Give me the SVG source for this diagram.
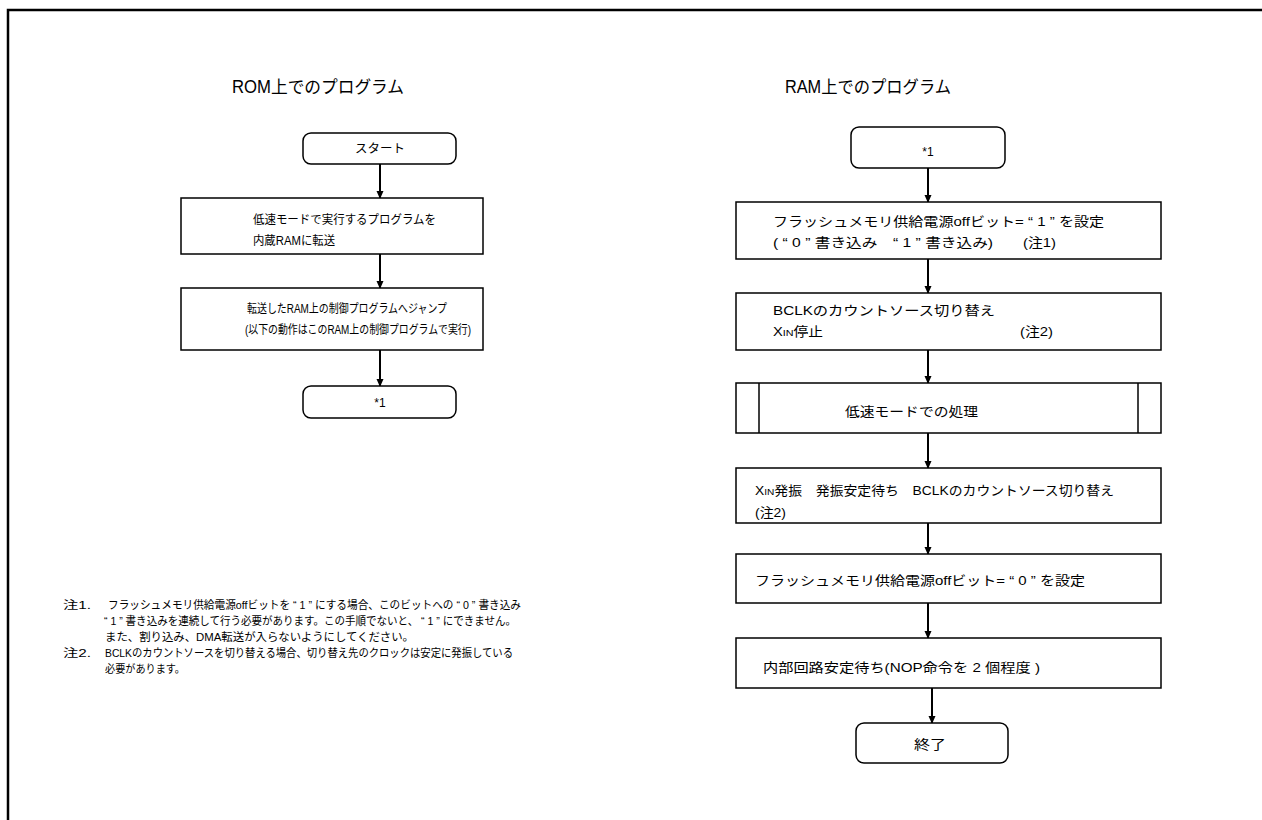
<svg xmlns="http://www.w3.org/2000/svg" width="1262" height="820" viewBox="0 0 1262 820">
<defs>
<marker id="ah" markerWidth="8" markerHeight="8" refX="7" refY="4" orient="auto" markerUnits="userSpaceOnUse">
<path d="M0,0.5 L8,4 L0,7.5 Z" fill="#000"/>
</marker>
<style>
text{font-family:"Liberation Sans","Noto Sans CJK JP",sans-serif;fill:#000}
.l{font-size:12px}
.t{font-size:13px}
.n{font-size:11.5px}
.h{font-size:17.5px}
.c{text-anchor:middle}
.box{fill:#fff;stroke:#000;stroke-width:1.5}
.con{stroke:#000;stroke-width:2;fill:none;marker-end:url(#ah)}
.frame{fill:none;stroke:#000;stroke-width:2.5}
.s{font-size:9.5px}
</style>
</defs>
<rect width="1262" height="820" fill="#fff"/>
<path class="frame" d="M8,830 L8,10 L1270,10"/>
<text class="h" x="232" y="93" textLength="172" lengthAdjust="spacingAndGlyphs">ROM上でのプログラム</text>
<text class="h" x="785" y="93" textLength="166" lengthAdjust="spacingAndGlyphs">RAM上でのプログラム</text>

<g id="connectors">
<line class="con" x1="380" y1="164" x2="380" y2="198"/>
<line class="con" x1="380" y1="254" x2="380" y2="288"/>
<line class="con" x1="380" y1="350" x2="380" y2="386"/>
<line class="con" x1="928" y1="168" x2="928" y2="202"/>
<line class="con" x1="928" y1="259" x2="928" y2="293"/>
<line class="con" x1="928" y1="350" x2="928" y2="383"/>
<line class="con" x1="928" y1="433" x2="928" y2="468"/>
<line class="con" x1="928" y1="523" x2="928" y2="554"/>
<line class="con" x1="928" y1="603" x2="928" y2="638"/>
<line class="con" x1="932" y1="688" x2="932" y2="723"/>
</g>

<g id="start">
<rect class="box" x="303" y="133" width="153" height="31" rx="8"/>
<text class="l" x="355" y="153" textLength="50" lengthAdjust="spacingAndGlyphs">スタート</text>
</g>
<g id="transfer">
<rect class="box" x="181" y="198" width="302" height="56"/>
<text class="l" x="253" y="224" textLength="183" lengthAdjust="spacingAndGlyphs">低速モードで実行するプログラムを</text>
<text class="l" x="253" y="245" textLength="82" lengthAdjust="spacingAndGlyphs">内蔵RAMに転送</text>
</g>
<g id="jump">
<rect class="box" x="181" y="288" width="302" height="62"/>
<text class="l" x="247" y="313" textLength="200" lengthAdjust="spacingAndGlyphs">転送したRAM上の制御プログラムへジャンプ</text>
<text class="l" x="245" y="334" textLength="226" lengthAdjust="spacingAndGlyphs">(以下の動作はこのRAM上の制御プログラムで実行)</text>
</g>
<g id="end-rom">
<rect class="box" x="303" y="386" width="153" height="32" rx="8"/>
<text class="l c" x="380" y="407">*1</text>
</g>

<g id="start-ram">
<rect class="box" x="851" y="127" width="154" height="41" rx="8"/>
<text class="l c" x="928" y="156">*1</text>
</g>
<g id="flash-on">
<rect class="box" x="736" y="202" width="425" height="57"/>
<text class="t" x="773" y="226" textLength="331" lengthAdjust="spacingAndGlyphs">フラッシュメモリ供給電源offビット= “ 1 ” を設定</text>
<text class="t" x="773" y="247" textLength="220" lengthAdjust="spacingAndGlyphs">( “ 0 ” 書き込み　“ 1 ” 書き込み)</text>
<text class="t" x="1023" y="247" textLength="33" lengthAdjust="spacingAndGlyphs">(注1)</text>
</g>
<g id="bclk1">
<rect class="box" x="736" y="293" width="425" height="57"/>
<text class="t" x="773" y="315" textLength="222" lengthAdjust="spacingAndGlyphs">BCLKのカウントソース切り替え</text>
<text class="t" x="773" y="336" textLength="50" lengthAdjust="spacingAndGlyphs">X<tspan class="s">IN</tspan>停止</text>
<text class="t" x="1020" y="336" textLength="33" lengthAdjust="spacingAndGlyphs">(注2)</text>
</g>
<g id="lowspeed">
<rect class="box" x="736" y="383" width="425" height="50"/>
<line x1="759" y1="383" x2="759" y2="433" stroke="#000" stroke-width="1.5"/>
<line x1="1138" y1="383" x2="1138" y2="433" stroke="#000" stroke-width="1.5"/>
<text class="t" x="845" y="416" textLength="133" lengthAdjust="spacingAndGlyphs">低速モードでの処理</text>
</g>
<g id="xin">
<rect class="box" x="736" y="468" width="425" height="55"/>
<text class="t" x="755" y="495" textLength="359" lengthAdjust="spacingAndGlyphs">X<tspan class="s">IN</tspan>発振　発振安定待ち　BCLKのカウントソース切り替え</text>
<text class="t" x="755" y="517" textLength="31" lengthAdjust="spacingAndGlyphs">(注2)</text>
</g>
<g id="flash-off">
<rect class="box" x="736" y="554" width="425" height="49"/>
<text class="t" x="755" y="585" textLength="330" lengthAdjust="spacingAndGlyphs">フラッシュメモリ供給電源offビット= “ 0 ” を設定</text>
</g>
<g id="wait">
<rect class="box" x="736" y="638" width="425" height="50"/>
<text class="t" x="763" y="672" textLength="277" lengthAdjust="spacingAndGlyphs">内部回路安定待ち(NOP命令を 2 個程度 )</text>
</g>
<g id="end">
<rect class="box" x="856" y="723" width="152" height="40" rx="8"/>
<text class="t" x="914" y="749" textLength="32" lengthAdjust="spacingAndGlyphs">終了</text>
</g>

<g id="notes">
<text class="n" x="63" y="609" textLength="28" lengthAdjust="spacingAndGlyphs">注1.</text>
<text class="n" x="108" y="609" textLength="413" lengthAdjust="spacingAndGlyphs">フラッシュメモリ供給電源offビットを “ 1 ” にする場合、このビットへの “ 0 ” 書き込み</text>
<text class="n" x="104" y="625" textLength="412" lengthAdjust="spacingAndGlyphs">“ 1 ” 書き込みを連続して行う必要があります。この手順でないと、 “ 1 ” にできません。</text>
<text class="n" x="105" y="641" textLength="309" lengthAdjust="spacingAndGlyphs">また、割り込み、DMA転送が入らないようにしてください。</text>
<text class="n" x="63" y="657" textLength="28" lengthAdjust="spacingAndGlyphs">注2.</text>
<text class="n" x="105" y="657" textLength="408" lengthAdjust="spacingAndGlyphs">BCLKのカウントソースを切り替える場合、切り替え先のクロックは安定に発振している</text>
<text class="n" x="105" y="673" textLength="80" lengthAdjust="spacingAndGlyphs">必要があります。</text>
</g>
</svg>
